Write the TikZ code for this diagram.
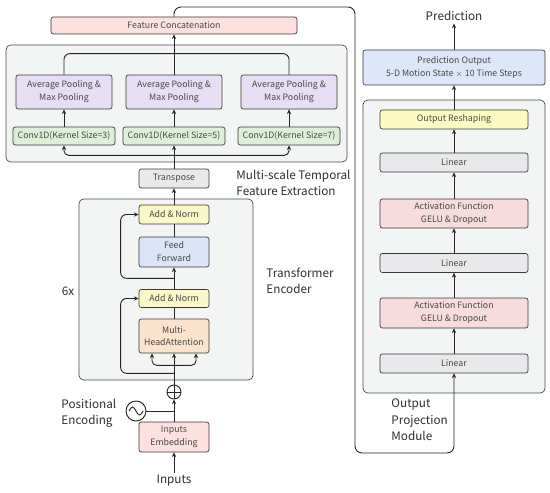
\documentclass[tikz,border=0pt]{standalone}
\usepackage{fontspec}
\setmainfont{Noto Sans CJK SC}
\usepackage{tikz}
\usetikzlibrary{calc,positioning,arrows.meta}
\definecolor{grpfill}{HTML}{F3F4F4}
\definecolor{grpedge}{HTML}{4A4A4A}
\definecolor{boxedge}{HTML}{3A3A3A}
\definecolor{boxtext}{HTML}{474747}
\definecolor{lbltext}{HTML}{2E2E2E}
\definecolor{pinkfill}{HTML}{FDE1E1}
\definecolor{actfill}{HTML}{F6DCDD}
\definecolor{poolfill}{HTML}{E6DFF4}
\definecolor{convfill}{HTML}{DEEFD9}
\definecolor{grayfill}{HTML}{E9E9EB}
\definecolor{normfill}{HTML}{FAF8C8}
\definecolor{fffill}{HTML}{DCE5F7}
\definecolor{mhafill}{HTML}{FBE3CD}
\definecolor{predfill}{HTML}{DEE7F9}
\definecolor{shapefill}{HTML}{FDFBC4}

\tikzset{
  blk/.style={rectangle, rounded corners=2pt, draw=boxedge, line width=0.6pt, inner sep=0pt,
    align=center, text=boxtext, font=\fontsize{7.5}{11}\selectfont},
  grp/.style={rectangle, rounded corners=4pt, draw=grpedge, fill=grpfill, line width=0.6pt, inner sep=0pt},
  arr/.style={-{Stealth[length=4pt, width=3.6pt]}, line width=0.8pt},
  lbl/.style={font=\fontsize{10}{14}\selectfont, text=lbltext, align=left, inner sep=0pt},
}

\begin{document}
\begin{tikzpicture}[x=0.3mm, y=-0.3mm, line width=0.8pt, draw=black!85]
  \useasboundingbox (0,0) rectangle (550,492);

  % Containers
  \node[grp, minimum width=102.3mm, minimum height=35.1mm] (msgrp) at (176.5,103.5) {};
  \node[grp, minimum width=52.2mm, minimum height=54.3mm] (encgrp) at (166,289.5) {};
  \node[grp, minimum width=54.6mm, minimum height=87.9mm] (projgrp) at (454,246.5) {};

  % Multi-scale feature extraction
  \node[blk, fill=pinkfill, minimum width=73.8mm, minimum height=5.1mm] (featcat) at (174,25.5) {Feature Concatenation};
  \foreach \i/\cx/\k in {1/64/3, 2/174/5, 3/289/7} {
    \node[blk, fill=poolfill, minimum width=28.8mm, minimum height=10.2mm] (pool\i) at (\cx,92) {Average Pooling \&\\Max Pooling};
    \node[blk, fill=convfill, minimum width=30.6mm, minimum height=5.4mm] (conv\i) at (\cx,136) {Conv1D(Kernel Size=\k)};
    \draw[arr] (conv\i.north) -- (pool\i.south);
  }
  \node[blk, fill=grayfill, minimum width=21mm, minimum height=5.7mm] (transpose) at (174,178.5) {Transpose};

  % Transformer encoder
  \node[blk, fill=normfill, minimum width=21mm, minimum height=5.7mm] (addnorm2) at (174,214.5) {Add \& Norm};
  \node[blk, fill=fffill, minimum width=21mm, minimum height=9mm] (ff) at (174,252) {Feed\\Forward};
  \node[blk, fill=normfill, minimum width=21mm, minimum height=5.4mm] (addnorm1) at (174,298.5) {Add \& Norm};
  \node[blk, fill=mhafill, minimum width=21mm, minimum height=10.2mm] (mha) at (174,336) {Multi-\\HeadAttention};
  \node[circle, draw, line width=0.8pt, minimum size=4.2mm, inner sep=0pt] (plus) at (174,392) {};
  \draw (plus.north) -- (plus.south) (plus.west) -- (plus.east);
  \node[circle, draw, line width=0.8pt, minimum size=6mm, inner sep=0pt] (pe) at (136,411) {};
  \draw ($(pe.center)+(-7,0)$) sin ($(pe.center)+(-3.5,-4)$) cos (pe.center)
    sin ($(pe.center)+(3.5,4)$) cos ($(pe.center)+(7,0)$);
  \node[blk, fill=pinkfill, minimum width=21mm, minimum height=9mm] (embed) at (174,437) {Inputs\\Embedding};

  % Output projection
  \node[blk, fill=predfill, minimum width=54.6mm, minimum height=10.5mm] (predout) at (454,67.5) {Prediction Output\\5-D Motion State $\times$ 10 Time Steps};
  \node[blk, fill=shapefill, minimum width=44.4mm, minimum height=5.7mm] (reshape) at (454,119.5) {Output Reshaping};
  \node[blk, fill=grayfill, minimum width=44.4mm, minimum height=5.7mm] (lin3) at (454,162.5) {Linear};
  \node[blk, fill=actfill, minimum width=44.4mm, minimum height=8.7mm] (act2) at (454,213.5) {Activation Function\\GELU \& Dropout};
  \node[blk, fill=grayfill, minimum width=44.4mm, minimum height=5.7mm] (lin2) at (454,263) {Linear};
  \node[blk, fill=actfill, minimum width=44.4mm, minimum height=9mm] (act1) at (454,313) {Activation Function\\GELU \& Dropout};
  \node[blk, fill=grayfill, minimum width=44.4mm, minimum height=5.7mm] (lin1) at (454,363.5) {Linear};

  % Labels
  \node[lbl, anchor=west] (mslbl) at (236,183) {Multi-scale Temporal\\Feature Extraction};
  \node[lbl, anchor=west] (enclbl) at (266,281) {Transformer\\Encoder};
  \node[lbl, anchor=center] (nlbl) at (68,291) {6x};
  \node[lbl, anchor=west] (pelbl) at (61,413) {Positional\\Encoding};
  \node[lbl, anchor=west] (projlbl) at (391,420) {Output\\Projection\\Module};
  \node[lbl, anchor=center, inner sep=2pt] (predlbl) at (454,16) {Prediction};
  \node[lbl, anchor=center, inner sep=2pt] (inputs) at (174,481) {Inputs};

  % Connectors, encoder
  \draw[arr] (inputs.north) -- (embed.south);
  \draw[arr] (embed.north) -- (plus.south);
  \draw (pe.east) -- (pe.east -| embed.north);
  \draw[arr] (plus.north) -- (mha.south);
  \draw[arr, rounded corners=4pt] ($(mha.south)+(0,12)$) -| ($(mha.south)+(-22,0)$);
  \draw[arr, rounded corners=4pt] ($(mha.south)+(0,12)$) -| ($(mha.south)+(22,0)$);
  \draw (mha.north) -- (addnorm1.south);
  \draw[arr] (addnorm1.north) -- (ff.south);
  \draw (ff.north) -- (addnorm2.south);
  \draw[arr] (addnorm2.north) -- (transpose.south);
  \draw[arr, rounded corners=5pt] ($(mha.south)+(0,20)$) -| ($(addnorm1.west)+(-18,0)$) -- (addnorm1.west);
  \draw[arr, rounded corners=5pt] ($(ff.south)+(0,11)$) -| ($(addnorm2.west)+(-18,0)$) -- (addnorm2.west);

  % Connectors, multi-scale
  \draw[arr] (transpose.north) -- (conv2.south);
  \draw[arr, rounded corners=4pt] ($(conv2.south)+(0,10)$) -| (conv1.south);
  \draw[arr, rounded corners=4pt] ($(conv2.south)+(0,10)$) -| (conv3.south);
  \draw[rounded corners=5pt] (pool1.north) |- ($(pool2.north)+(0,-21)$) -| (pool3.north);
  \draw[arr] (pool2.north) -- (featcat.south);

  % Connectors, output projection
  \coordinate (turnA) at (355,7);
  \coordinate (turnB) at (355,453);
  \draw[arr, rounded corners=6pt] (featcat.north) |- (turnA) -- (turnB) -| (lin1.south);
  \draw[arr] (lin1.north) -- (act1.south);
  \draw[arr] (act1.north) -- (lin2.south);
  \draw[arr] (lin2.north) -- (act2.south);
  \draw[arr] (act2.north) -- (lin3.south);
  \draw[arr] (lin3.north) -- (reshape.south);
  \draw[arr] (reshape.north) -- (predout.south);
  \draw[arr] (predout.north) -- (predlbl.south);
\end{tikzpicture}
\end{document}
